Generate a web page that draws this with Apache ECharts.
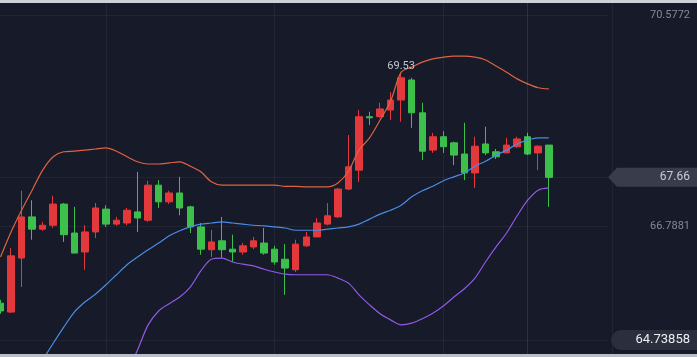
<!DOCTYPE html>
<html><head><meta charset="utf-8">
<script src="https://cdn.jsdelivr.net/npm/echarts@6/dist/echarts.min.js"></script>
<style>html,body{margin:0;padding:0;background:#161a29;}#c{width:697px;height:357px;}</style>
</head><body><div id="c"></div>
<script>
// ---- data ----
const categories = ['1','2','3','4','5','6','7','8','9','10','11','12','13','14','15','16','17','18','19','20',
  '21','22','23','24','25','26','27','28','29','30','31','32','33','34','35','36','37','38','39','40',
  '41','42','43','44','45','46','47','48','49','50','51','52','53'];
// [open, close, low, high]
const candles = [
  [65.40,65.26,65.21,65.46],[65.24,66.25,65.22,66.39],[66.21,66.95,65.69,67.42],[66.95,66.73,66.54,67.25],
  [66.73,66.80,66.70,66.86],[66.80,67.18,66.75,67.33],[67.18,66.63,66.50,67.20],[66.66,66.30,66.30,67.13],
  [66.32,66.68,66.00,66.80],[66.68,67.11,66.57,67.20],[67.09,66.82,66.77,67.16],[66.82,66.89,66.79,66.95],
  [66.84,67.07,66.80,67.11],[67.04,66.93,66.68,67.76],[66.89,67.52,66.86,67.60],[67.52,67.22,67.11,67.61],
  [67.22,67.38,67.18,67.42],[67.38,67.11,66.98,67.67],[67.13,66.77,66.66,67.15],[66.77,66.37,66.27,66.84],
  [66.36,66.50,66.23,66.72],[66.52,66.36,66.21,66.95],[66.37,66.32,66.14,66.63],[66.32,66.43,66.27,66.48],
  [66.41,66.52,66.37,66.59],[66.48,66.30,66.27,66.75],[66.37,66.14,66.09,66.43],[66.19,66.03,65.55,66.46],
  [66.00,66.46,65.96,66.54],[66.43,66.59,66.41,66.68],[66.59,66.84,66.59,66.93],[66.82,66.97,66.80,67.20],
  [66.95,67.45,66.93,67.47],[67.45,67.85,67.43,68.42],[67.79,68.75,67.58,68.87],[68.75,68.73,68.60,68.84],
  [68.75,68.89,68.73,69.00],[68.87,69.05,68.69,69.19],[69.05,69.45,68.66,69.53],[69.41,68.82,68.55,69.45],
  [68.82,68.13,67.97,69.00],[68.15,68.39,68.10,68.46],[68.39,68.21,68.10,68.49],[68.28,68.06,67.88,68.30],
  [68.08,67.74,67.61,68.64],[67.74,68.22,67.47,68.39],[68.26,68.10,68.06,68.57],[68.12,68.03,67.99,68.17],
  [68.10,68.24,68.10,68.37],[68.21,68.35,68.19,68.39],[68.39,68.08,68.06,68.46],[68.10,68.22,67.79,68.24],
  [68.24,67.66,67.13,68.24]
];
const upperBand = [66.23,66.68,67.07,67.43,67.79,68.03,68.12,68.13,68.15,68.17,68.19,68.13,68.03,67.94,67.90,67.90,
  67.92,67.94,67.86,67.76,67.58,67.52,67.52,67.52,67.52,67.52,67.52,67.50,67.50,67.49,67.49,67.49,67.56,67.77,
  68.15,68.37,68.69,69.03,69.55,69.64,69.73,69.79,69.82,69.84,69.84,69.82,69.77,69.66,69.55,69.43,69.34,69.27,69.25];
const middleBand = [null,null,null,null,64.38,64.68,64.97,65.24,65.42,65.56,65.73,65.91,66.09,66.23,66.36,66.48,
  66.61,66.70,66.77,66.82,66.84,66.86,66.84,66.82,66.80,66.79,66.77,66.75,66.71,66.71,66.71,66.73,66.75,66.77,
  66.82,66.91,67.00,67.07,67.16,67.31,67.42,67.50,67.60,67.67,67.74,67.86,67.95,68.06,68.15,68.26,68.33,68.37,68.37];
const lowerBand = [null,null,null,null,null,null,null,null,null,null,null,null,64.16,64.56,65.01,65.26,65.39,65.51,
  65.69,65.98,66.19,66.21,66.14,66.10,66.07,66.01,65.96,65.92,65.91,65.91,65.91,65.91,65.85,65.76,65.55,65.37,
  65.21,65.10,65.01,65.04,65.12,65.22,65.35,65.51,65.66,65.85,66.14,66.41,66.66,66.97,67.25,67.43,67.47];
const axisTexts = [70.5772, 66.7881];
const lastPrice = 67.66;
const lowMark = 64.73858;

const chart = echarts.init(document.getElementById('c'), null, {renderer:'canvas'});
const FONT = 'Roboto, "Noto Sans", sans-serif';
chart.setOption({
  backgroundColor: '#161a29',
  animation: false,
  grid: {left: 0.5, right: 95.5, top: 0, bottom: 0},
  xAxis: {
    type: 'category', data: categories, boundaryGap: false, max: 57,
    axisLine: {show: false}, axisTick: {show: false}, axisLabel: {show: false},
    splitLine: {show: true, interval: (i) => i % 16 === 10, lineStyle: {color: 'rgba(255,255,255,0.06)', width: 1}}
  },
  yAxis: {
    type: 'value', position: 'right', min: 64.4327, max: 70.8467, scale: true,
    axisLine: {show: false}, axisTick: {show: false}, axisLabel: {show: false}, splitLine: {show: false}
  },
  series: [
    {
      type: 'candlestick', data: candles, barWidth: 7,
      itemStyle: {color: '#e4393c', color0: '#3dbf4b', borderColor: '#e4393c', borderColor0: '#3dbf4b', borderWidth: 1},
      markPoint: {
        symbol: 'circle', symbolSize: 0,
        data: [{type: 'max', valueDim: 'highest'}],
        label: {show: true, position: 'top', distance: 2, color: '#c3c6cf', fontSize: 11, fontFamily: FONT,
          formatter: (p) => p.value.toFixed(2)}
      },
      markLine: {
        symbol: 'none', silent: true, label: {show: false},
        lineStyle: {color: 'rgba(255,255,255,0.10)', type: 'solid', width: 1},
        data: [{xAxis: '51'}]
      }
    },
    {type: 'line', data: upperBand, symbol: 'none', smooth: 0.3, lineStyle: {color: '#dd6440', width: 1.2}},
    {type: 'line', data: middleBand, symbol: 'none', smooth: 0.3, lineStyle: {color: '#4a8ce6', width: 1.2}},
    {type: 'line', data: lowerBand, symbol: 'none', smooth: 0.3, lineStyle: {color: '#9258e8', width: 1.2}}
  ]
});

const yPx = (v) => chart.convertToPixel({yAxisIndex: 0}, v);
const W = 697;
const g = [];
// faint horizontal level lines
[axisTexts[0], axisTexts[1], lastPrice, lowMark].forEach(v => {
  const y = Math.round(yPx(v)) + 0.5;
  g.push({type: 'line', shape: {x1: 0, y1: y, x2: 608, y2: y}, style: {stroke: 'rgba(255,255,255,0.05)', lineWidth: 1}, z: 1});
});
// separator of price area
g.push({type: 'line', shape: {x1: 612.5, y1: 0, x2: 612.5, y2: 357}, style: {stroke: 'rgba(255,255,255,0.05)', lineWidth: 1}, z: 1});
axisTexts.forEach(v => {
  g.push({type: 'text', x: 690, y: yPx(v), style: {text: String(v), fill: '#858995', font: '11px ' + FONT, align: 'right', verticalAlign: 'middle'}, z: 10});
});
// last price box
const yl = yPx(lastPrice);
g.push({type: 'polygon', shape: {points: [[608, yl], [617, yl - 9.5], [697, yl - 9.5], [697, yl + 9.5], [617, yl + 9.5]]}, style: {fill: '#393c4b'}, z: 10});
g.push({type: 'text', x: 690, y: yl, style: {text: lastPrice.toFixed(2), fill: '#c8cbd3', font: '12px ' + FONT, align: 'right', verticalAlign: 'middle'}, z: 11});
// low mark box
const ym = yPx(lowMark);
g.push({type: 'rect', shape: {x: 611, y: ym - 10, width: 90, height: 20, r: [10, 0, 0, 10]}, style: {fill: '#2b2e3c'}, z: 10});
g.push({type: 'text', x: 690, y: ym, style: {text: String(lowMark), fill: '#eceef2', font: '13px ' + FONT, align: 'right', verticalAlign: 'middle'}, z: 11});
// screenshot edges
g.push({type: 'rect', shape: {x: 0, y: 0, width: W, height: 3}, style: {fill: '#cfd1d9'}, z: 20});
g.push({type: 'rect', shape: {x: 0, y: 354, width: W, height: 3}, style: {fill: '#b9bdca'}, z: 20});
chart.setOption({graphic: g});
</script></body></html>
